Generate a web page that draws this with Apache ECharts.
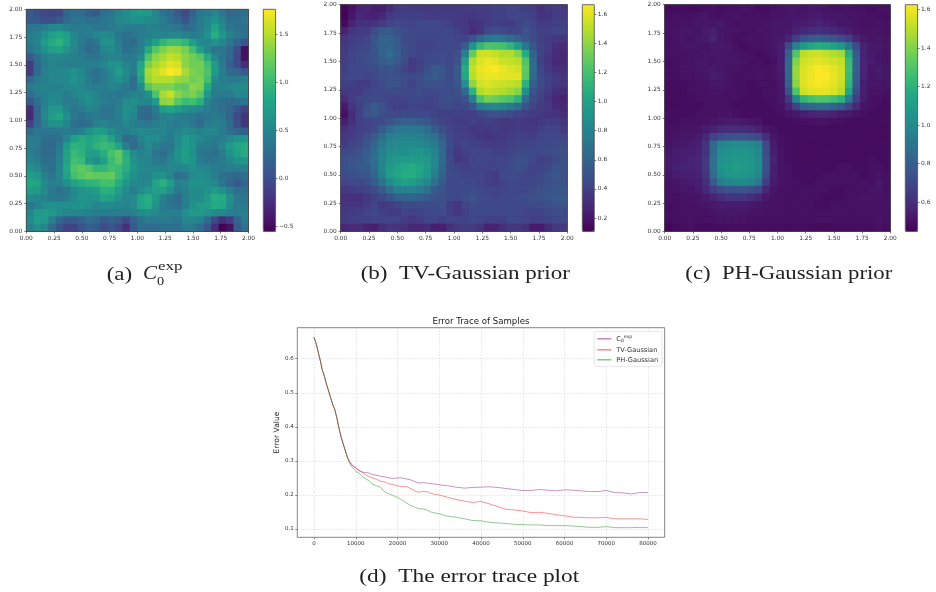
<!DOCTYPE html>
<html><head><meta charset="utf-8">
<style>html,body{margin:0;padding:0;background:#fff}#c{width:936px;height:592px;filter:blur(0.55px)}</style>
<script src="https://cdn.jsdelivr.net/npm/echarts@6/dist/echarts.min.js"></script>
</head><body><div id="c"></div>
<script>
// Heat values are in hundredths, rows from the top edge (y = 2) to the bottom (y = 0).
const heatA = [
[10,0,-5,-8,-5,20,30,25,15,10,30,35,45,55,65,70,68,50,35,25,10,-5,15,35,40,50,35,20,25,30],
[10,5,0,0,10,25,35,35,30,30,35,40,50,55,60,60,55,50,40,30,20,5,25,40,50,60,45,30,30,35],
[35,35,40,50,55,45,40,40,40,35,35,40,45,40,40,40,45,45,40,40,35,25,30,40,55,78,55,35,30,30],
[40,45,60,72,82,72,50,40,40,50,55,50,35,30,35,40,45,50,48,50,50,45,40,45,60,88,65,45,35,30],
[40,48,70,85,92,78,50,38,30,35,60,60,40,28,25,40,55,75,95,105,105,95,72,55,50,60,50,35,20,5],
[35,45,60,72,78,62,48,35,25,30,50,55,45,30,32,45,85,115,130,142,140,128,105,72,50,35,35,25,0,-45],
[10,30,45,50,52,48,45,40,35,35,42,48,48,38,40,55,110,135,145,155,150,135,125,115,85,50,35,20,-5,-45],
[-15,25,40,48,45,42,42,45,42,42,50,60,62,48,42,80,130,145,155,165,160,135,125,125,105,70,38,15,-5,-25],
[-15,25,42,50,50,52,60,50,38,30,38,55,72,55,40,85,145,155,165,175,170,145,130,125,110,70,40,25,20,10],
[20,38,45,50,50,55,62,55,40,30,38,50,60,50,30,75,140,150,150,150,140,135,125,130,105,55,40,38,40,45],
[40,45,48,45,45,50,55,50,42,40,42,48,45,38,28,55,115,130,130,130,120,118,135,130,85,45,45,50,55,55],
[30,40,45,50,48,42,48,55,55,48,40,38,35,40,48,45,60,110,145,155,135,125,130,115,65,40,40,40,50,50],
[10,30,45,55,50,40,40,48,58,50,42,38,40,55,58,50,48,70,135,140,115,100,105,90,50,35,30,25,30,35],
[-25,20,48,65,65,48,35,40,48,45,35,32,45,60,55,30,25,40,70,80,70,60,55,50,40,35,30,20,5,-10],
[-30,20,50,72,80,58,35,30,35,38,35,32,42,58,50,25,20,32,45,48,42,38,35,30,35,38,35,20,-5,-20],
[-10,25,45,60,62,48,30,25,30,45,50,42,42,50,45,38,35,42,48,42,40,45,35,25,40,45,40,25,0,-20],
[25,35,35,35,38,40,38,45,60,72,70,55,45,42,48,55,50,48,50,42,48,55,50,45,50,50,40,30,20,15],
[40,40,30,25,30,50,75,85,80,85,92,75,50,25,28,48,58,55,45,38,55,70,62,52,45,40,42,50,60,65],
[42,38,25,22,38,70,92,90,80,92,100,95,78,42,25,40,55,45,35,35,55,70,62,40,40,35,50,68,78,85],
[45,35,25,25,42,78,98,92,72,72,88,108,118,88,55,45,50,35,28,40,60,72,60,35,32,30,40,60,75,85],
[50,40,30,28,45,78,105,100,68,58,75,100,115,92,62,52,48,38,35,50,58,68,62,42,35,35,40,50,60,65],
[60,52,35,30,48,82,112,118,112,95,95,105,100,88,65,52,50,50,48,50,48,50,58,50,48,42,38,42,42,45],
[72,65,45,35,50,75,105,115,122,118,118,120,100,78,60,50,48,60,62,48,30,35,55,58,55,42,30,25,22,30],
[82,78,55,42,45,58,75,85,92,95,105,105,85,65,52,50,52,78,90,72,45,48,60,60,58,50,35,20,10,20],
[72,68,52,38,30,38,52,62,68,72,90,88,72,55,42,55,65,75,75,58,38,45,55,55,60,70,60,42,28,30],
[55,52,45,38,35,42,55,62,62,62,78,75,62,50,55,80,88,68,45,32,25,42,55,55,70,88,85,58,38,35],
[35,45,55,60,58,58,60,62,58,50,55,55,50,48,55,78,85,62,40,32,28,42,60,68,72,85,82,55,40,38],
[50,68,72,68,58,50,50,48,45,40,42,42,42,40,45,55,58,52,45,42,45,58,68,68,60,55,52,45,42,45],
[55,72,70,45,20,10,10,15,25,22,10,15,10,-5,15,30,38,38,40,38,35,48,50,45,25,-5,-25,-15,18,40],
[45,58,50,25,5,-8,-8,5,15,10,-2,5,-5,-22,10,28,25,25,30,30,28,40,38,25,5,-25,-55,-45,10,30]
];
const heatB = [
[13,18,25,27,24,24,30,36,38,37,36,36,37,36,37,37,37,38,38,38,40,40,42,42,40,38,32,36,38,38],
[12,20,28,26,25,28,36,40,40,40,40,38,38,38,38,37,36,36,38,38,40,40,42,44,42,40,33,34,38,38],
[15,26,32,32,34,38,42,44,42,42,44,44,44,42,40,37,36,32,34,38,40,38,38,42,46,42,38,38,40,40],
[26,34,38,38,46,54,56,50,46,44,44,44,44,44,44,40,36,30,34,44,48,46,42,42,50,44,40,40,42,42],
[34,38,40,42,52,60,60,54,46,44,42,42,42,44,44,42,42,50,64,72,74,72,66,60,52,46,40,38,36,34],
[36,40,42,44,52,60,62,56,48,44,42,42,42,44,44,44,56,90,114,122,122,120,112,96,72,52,42,38,32,30],
[38,42,44,46,50,58,66,58,48,44,42,44,44,46,44,48,78,130,154,156,152,148,148,138,106,60,42,36,30,28],
[38,42,44,48,50,56,60,54,46,36,40,44,46,46,44,50,96,148,158,162,160,154,152,150,124,64,40,34,28,28],
[40,44,44,44,46,50,52,48,42,38,42,48,54,52,46,54,106,152,162,164,166,162,158,156,128,66,42,36,32,30],
[42,44,44,42,44,48,50,50,46,44,46,52,56,52,46,54,104,150,160,162,162,160,160,160,126,64,44,40,36,34],
[40,40,38,38,42,46,50,50,46,42,46,50,50,48,46,52,88,140,156,158,156,154,152,150,110,58,44,40,36,34],
[36,38,38,42,44,44,46,46,44,44,46,44,44,46,46,48,64,110,148,152,150,148,144,138,88,50,42,38,32,30],
[30,38,42,44,46,44,42,42,42,44,44,42,42,46,48,46,50,76,122,134,130,126,122,110,66,46,40,34,28,26],
[22,34,40,48,54,50,42,40,40,42,42,40,42,44,44,42,44,52,74,80,82,80,74,66,50,42,38,36,30,28],
[18,30,40,50,54,48,44,44,46,46,44,44,42,40,40,40,40,40,44,48,50,48,46,42,40,38,36,34,34,30],
[24,32,40,42,44,46,50,56,58,58,56,52,46,42,40,38,38,40,38,40,38,36,36,38,36,34,36,38,38,34],
[32,36,40,42,46,56,66,72,74,74,72,66,56,48,42,40,38,36,36,36,38,36,36,38,36,36,40,42,42,38],
[36,38,42,48,54,66,76,80,80,80,78,74,68,56,44,40,40,38,36,34,36,36,38,40,40,40,42,44,44,42],
[38,42,46,52,62,74,82,84,84,84,84,80,74,62,46,40,42,40,40,38,38,38,40,42,42,42,44,44,46,46],
[44,46,50,56,66,78,86,88,88,90,92,88,80,64,44,36,40,42,42,42,40,40,42,44,46,44,44,46,48,48],
[48,50,52,58,66,80,90,94,96,96,96,92,82,64,46,36,38,42,44,42,42,42,44,48,48,44,40,42,46,48],
[48,52,54,56,66,82,94,100,104,106,102,94,82,62,46,42,40,42,42,42,42,44,46,48,46,42,42,44,50,50],
[46,48,50,52,62,80,96,102,106,106,100,92,78,60,46,44,42,42,42,40,38,44,46,46,42,42,44,48,52,50],
[42,44,44,48,56,70,84,94,98,96,90,82,68,54,46,44,44,44,42,40,38,42,44,44,42,44,46,48,50,50],
[36,38,40,42,46,56,68,78,80,80,76,68,56,50,46,44,46,46,44,42,42,42,44,44,44,46,48,50,52,52],
[32,32,32,36,40,44,50,58,60,60,58,54,50,48,46,44,48,50,46,44,42,44,44,46,46,48,50,52,54,54],
[34,34,34,38,42,36,38,42,46,46,46,46,46,48,38,34,42,46,44,44,44,44,46,44,44,46,46,48,50,50],
[36,38,40,42,44,40,38,38,42,40,42,44,44,46,40,36,40,44,44,44,44,44,44,44,42,42,42,44,46,46],
[38,40,40,40,42,42,42,42,38,36,38,42,42,40,42,42,42,44,42,40,40,40,44,44,42,40,40,42,44,44],
[28,30,30,26,24,30,34,34,32,28,28,30,24,24,32,36,38,38,34,26,26,32,36,36,32,22,22,30,36,36]
];
const heatC = [
[47,49,49,48,49,50,50,49,50,50,51,50,49,49,50,51,52,52,51,52,52,51,50,50,51,50,50,49,50,50],
[49,50,50,50,51,52,50,50,51,51,50,50,50,50,51,51,52,52,52,53,54,52,52,52,51,51,50,50,50,49],
[50,50,51,50,52,52,52,53,51,50,50,50,50,51,52,52,52,54,54,55,56,55,54,52,52,51,50,50,51,50],
[50,51,52,52,51,54,55,52,51,51,50,50,51,51,52,52,53,56,58,60,61,60,58,56,54,52,51,51,51,50],
[50,51,52,51,52,53,56,52,51,50,50,51,50,51,52,53,56,66,74,78,80,78,75,70,66,57,53,51,52,51],
[50,50,51,52,52,51,53,53,52,50,49,50,50,51,52,54,72,96,108,114,118,116,112,106,92,72,56,53,53,51],
[50,50,50,51,51,52,52,52,52,51,50,50,49,50,51,54,80,130,150,153,154,152,149,146,118,78,56,53,52,51],
[49,50,50,51,52,52,51,52,52,52,51,50,50,49,50,54,84,140,154,156,158,156,154,152,124,80,57,54,52,51],
[49,50,51,51,52,52,53,52,51,51,50,50,50,50,51,54,85,144,156,159,162,161,158,154,126,80,57,52,54,52],
[49,49,50,50,51,52,54,53,51,50,50,50,51,50,51,53,84,144,157,160,163,162,159,154,124,78,56,52,53,52],
[48,49,49,50,50,51,52,52,51,50,50,49,50,50,50,53,82,142,157,160,162,160,158,153,122,78,55,52,52,51],
[48,48,49,50,50,50,51,51,50,50,50,49,49,50,50,52,74,130,154,157,158,158,156,150,114,72,55,51,51,50],
[48,48,49,49,50,50,50,50,50,50,49,49,49,50,50,52,64,100,122,128,130,129,126,120,94,66,54,50,50,49],
[48,48,49,49,49,50,50,50,50,49,49,49,49,49,50,51,56,68,80,84,86,85,82,78,68,58,51,50,49,48],
[49,49,49,49,50,50,50,51,51,50,49,49,49,49,49,50,51,53,55,56,58,58,56,54,53,51,50,49,49,48],
[49,49,50,50,50,51,52,53,54,54,53,52,51,49,49,49,49,50,50,50,51,51,50,50,49,49,49,49,49,48],
[50,50,51,51,52,54,56,59,60,60,60,59,56,52,50,49,49,49,49,49,49,49,49,49,49,49,49,49,48,48],
[50,51,52,52,54,58,68,72,74,75,75,73,70,60,52,50,49,49,48,49,49,48,48,49,49,49,49,48,48,48],
[51,52,53,54,55,62,84,98,100,102,102,100,96,70,54,50,49,48,48,48,48,48,49,49,49,48,48,48,49,49],
[52,54,55,55,56,62,86,102,104,105,106,104,100,72,55,51,49,48,48,48,48,49,49,49,48,48,48,49,49,49],
[53,54,55,56,57,64,88,103,106,108,108,106,102,74,56,51,49,49,48,48,49,49,49,49,49,48,49,50,49,49],
[53,55,56,56,57,64,88,104,107,110,108,106,102,74,55,51,50,49,48,49,49,49,49,50,50,49,49,50,50,49],
[52,54,55,55,56,63,86,102,106,108,106,104,100,72,55,51,50,49,49,49,49,50,50,50,50,50,49,50,51,50],
[51,52,53,54,55,60,78,94,98,100,100,98,92,66,54,51,50,50,49,49,50,50,50,50,50,50,50,50,52,50],
[50,51,52,52,54,58,66,72,74,75,75,73,70,58,52,50,50,50,50,50,50,50,49,49,50,50,50,51,52,50],
[50,50,51,51,52,54,56,60,62,63,62,60,57,53,51,50,50,50,50,50,50,49,49,49,50,50,51,51,51,50],
[49,50,50,50,51,52,53,54,54,54,54,53,52,51,50,50,50,50,50,50,49,49,50,50,50,50,50,50,50,50],
[49,50,50,50,50,50,51,52,52,52,52,51,51,50,50,50,50,50,50,50,50,50,50,50,50,50,50,50,50,50],
[49,50,50,51,50,50,50,51,51,51,51,50,50,50,50,50,50,50,50,50,50,50,50,50,50,50,50,50,51,50],
[46,48,49,50,49,48,49,49,49,49,49,49,49,49,49,49,49,49,49,49,48,48,49,49,49,49,49,49,50,49]
];
const colorRangeA = [-0.554, 1.757];
const colorRangeB = [0.107, 1.666];
const colorRangeC = [0.448, 1.626];
const colorTicksA = [-0.5, 0, 0.5, 1, 1.5];
const colorTicksB = [0.2, 0.4, 0.6, 0.8, 1, 1.2, 1.4, 1.6];
const colorTicksC = [0.6, 0.8, 1, 1.2, 1.4, 1.6];
const spatialTicks = [0, 0.25, 0.5, 0.75, 1, 1.25, 1.5, 1.75, 2];

const iterations = [0,500,1000,1500,2000,2500,3000,3500,4000,4500,5000,5500,6000,6500,7000,7500,8000,8500,9000,
10000,11000,12000,13000,14000,15000,16000,17000,18000,19000,20000,21000,22000,23000,24000,25000,26000,27000,28000,29000,30000,
32000,34000,36000,38000,40000,42000,44000,46000,48000,50000,52000,54000,56000,58000,60000,62000,64000,66000,68000,70000,72000,74000,76000,78000,80000];
const errorStart = [.663,.645,.62,.595,.566,.548,.525,.505,.485,.465,.45,.425,.395,.37,.35,.33,.31];
const errorC0 = [.298,.29,.28,.27,.266,.265,.26,.258,.255,.253,.25,.248,.25,.25,.247,.245,.24,.235,.236,.235,.233,.232,.23,.227,.223,.22,.222,.223,.224,.222,.219,.216,.213,.213,.216,.214,.212,.215,.214,.212,.21,.21,.213,.207,.206,.203,.207,.207];
const errorTV = [.298,.288,.278,.27,.262,.255,.25,.246,.24,.238,.233,.23,.227,.225,.225,.22,.213,.208,.21,.21,.205,.201,.2,.193,.187,.182,.178,.181,.174,.166,.158,.156,.153,.148,.149,.146,.142,.139,.135,.134,.133,.133,.134,.13,.13,.13,.13,.128];
const errorPH = [.293,.283,.27,.262,.25,.243,.232,.227,.222,.208,.203,.198,.192,.186,.178,.17,.165,.16,.159,.156,.15,.147,.145,.137,.135,.13,.125,.124,.12,.118,.116,.114,.113,.112,.112,.11,.11,.11,.109,.107,.105,.105,.107,.104,.104,.104,.105,.104];
const traceXTicks = [0,10000,20000,30000,40000,50000,60000,70000,80000];
const traceYTicks = [0.1,0.2,0.3,0.4,0.5,0.6];
const traceNames = ['C0exp','TV-Gaussian','PH-Gaussian'];

const viridis = ['#440154','#482475','#414487','#355f8d','#2a788e','#21918c','#22a884','#44bf70','#7ad151','#bddf26','#fde725'];
const panels = [
 {heat:heatA, range:colorRangeA, ticks:colorTicksA, box:[26.3,9.3,222.2,222.2], bar:[263.3,12.3]},
 {heat:heatB, range:colorRangeB, ticks:colorTicksB, box:[340.7,4.7,226.6,226.8], bar:[582.3,12]},
 {heat:heatC, range:colorRangeC, ticks:colorTicksC, box:[664.7,4.7,225.6,226.8], bar:[905.3,12.3]}
];
const ink = '#333', tickFont = 5.9, fam = 'DejaVu Sans';
const noLines = {splitLine:{show:false}, splitArea:{show:false}, minorSplitLine:{show:false}};
const grid=[], xAxis=[], yAxis=[], series=[], visualMap=[];
const cells = heatA.map((_, i) => String(i));
panels.forEach((p, k) => {
  const [l,t,w,h] = p.box;
  const gi = grid.length;
  grid.push({left:l, top:t, width:w, height:h, show:true, z:3, backgroundColor:'transparent', borderColor:'#444', borderWidth:0.8});
  const xc = xAxis.length, yc = yAxis.length;
  xAxis.push(Object.assign({type:'category', gridIndex:gi, data:cells, show:false, axisLine:{show:false}, axisTick:{show:false}, axisLabel:{show:false}}, noLines));
  yAxis.push(Object.assign({type:'category', gridIndex:gi, data:cells, show:false, axisLine:{show:false}, axisTick:{show:false}, axisLabel:{show:false}}, noLines));
  const common = Object.assign({type:'value', gridIndex:gi, min:0, max:2,
    axisLine:{show:false, onZero:false},
    axisTick:{show:true, length:2, lineStyle:{color:'#444', width:0.7}, customValues:spatialTicks},
    axisLabel:{fontSize:tickFont, fontFamily:fam, color:ink, margin:4, customValues:spatialTicks, formatter:v=>v.toFixed(2), showMinLabel:true, showMaxLabel:true, hideOverlap:false}}, noLines);
  xAxis.push(Object.assign({}, common, {position:'bottom'}));
  yAxis.push(Object.assign({}, common, {position:'left'}));
  const data=[];
  p.heat.forEach((row,j)=>row.forEach((v,i)=>data.push([i, p.heat.length-1-j, v/100])));
  // The same cells are painted twice so that anti-aliased cell edges do not let the page show through.
  const heat = {type:'heatmap', xAxisIndex:xc, yAxisIndex:yc, data, silent:true, itemStyle:{borderWidth:0}, progressive:0, emphasis:{disabled:true}};
  series.push(heat, Object.assign({}, heat));
  visualMap.push({type:'continuous', seriesIndex:[series.length-2, series.length-1], min:p.range[0], max:p.range[1], left:p.bar[0], top:t, itemWidth:p.bar[1], itemHeight:h, padding:0, calculable:false, hoverLink:false, showLabel:false, text:null, inRange:{color:viridis}, silent:true});
  // colour-bar frame and tick axis share the legend's rectangle
  const gb = grid.length;
  grid.push({left:p.bar[0], top:t, width:p.bar[1], height:h, show:true, z:6, backgroundColor:'transparent', borderColor:'#444', borderWidth:0.8});
  xAxis.push(Object.assign({type:'value', gridIndex:gb, show:false, min:0, max:1, axisLine:{show:false}, axisTick:{show:false}, axisLabel:{show:false}}, noLines));
  yAxis.push(Object.assign({type:'value', gridIndex:gb, position:'right', min:p.range[0], max:p.range[1],
    axisLine:{show:false, onZero:false},
    axisTick:{show:true, length:2, lineStyle:{color:'#444', width:0.7}, customValues:p.ticks},
    axisLabel:{fontSize:tickFont, fontFamily:fam, color:ink, margin:3.5, customValues:p.ticks, formatter:v=>(v<0?'\u2212':'')+Math.abs(v).toFixed(1), showMinLabel:true, showMaxLabel:true}}, noLines));
});
// error trace panel
const gd = grid.length;
grid.push({left:297.3, top:327.7, width:367.4, height:209.6, show:true, z:1, backgroundColor:'transparent', borderColor:'#777', borderWidth:0.9});
const xd = xAxis.length, yd = yAxis.length;
const dash = {show:true, lineStyle:{color:'#d8d8d8', width:0.7, type:[1.5,1.5]}};
xAxis.push({type:'value', gridIndex:gd, min:-4000, max:84000, splitLine:dash,
  axisLine:{show:false,onZero:false}, axisTick:{length:2, lineStyle:{color:'#555', width:0.7}, customValues:traceXTicks},
  axisLabel:{fontSize:5.5, fontFamily:fam, color:ink, margin:3.5, customValues:traceXTicks, formatter:v=>String(v)}});
yAxis.push({type:'value', gridIndex:gd, min:0.0757, max:0.691, splitLine:dash, name:'Error Value', nameLocation:'middle', nameGap:15,
  nameTextStyle:{fontSize:7.6, fontFamily:fam, color:'#222'},
  axisLine:{show:false,onZero:false}, axisTick:{length:2, lineStyle:{color:'#555', width:0.7}, customValues:traceYTicks},
  axisLabel:{fontSize:5.5, fontFamily:fam, color:ink, margin:3.5, customValues:traceYTicks, formatter:v=>v.toFixed(1)}});
const traces = [[errorC0,'#800080'],[errorTV,'#ff0000'],[errorPH,'#008000']];
traces.forEach(([tail,col],i)=>{
  const vals = errorStart.concat(tail);
  series.push({type:'line', name:traceNames[i], xAxisIndex:xd, yAxisIndex:yd, showSymbol:false, symbol:'none',
    lineStyle:{color:col, width:0.85, opacity:0.5}, itemStyle:{color:col, opacity:0.5}, silent:true,
    data:iterations.map((x,n)=>[x, vals[n]])});
});

const captionFont = '19px "Liberation Serif"';
function cap(text,x,y,font,sx){return {type:'text', x, y, scaleX:sx||1.21, silent:true, style:{text, x:0, y:0, font:font||captionFont, fill:'#222', align:'left', verticalAlign:'middle'}};}
const graphic = [
 cap('(a)',106.7,275),
 cap('C',143,274,'italic 19px "Liberation Serif"',1.1),
 cap('exp',158,267,'13px "Liberation Serif"',1.3),
 cap('0',157,282,'13px "Liberation Serif"',1.1),
 cap('(b)  TV-Gaussian prior',360.7,274),
 cap('(c)  PH-Gaussian prior',685.3,274,captionFont,1.2),
 cap('(d)  The error trace plot',359.3,577,captionFont,1.23)
];

const chart = echarts.init(document.getElementById('c'), null, {renderer:'canvas', width:936, height:592});
chart.setOption({
  animation:false, backgroundColor:'#fff',
  title:{text:'Error Trace of Samples', left:481, top:317, textAlign:'center', padding:0,
    textStyle:{fontSize:8.6, fontWeight:'normal', fontFamily:fam, color:'#222'}},
  legend:{data:traceNames, orient:'vertical', left:594.3, top:331.3, padding:[3,4,3,3], itemWidth:14, itemHeight:8, itemGap:3,
    icon:'path://M0,45L100,45L100,55L0,55Z',
    backgroundColor:'rgba(255,255,255,0.85)', borderColor:'#ddd', borderWidth:0.7, borderRadius:2,
    selectedMode:false, textStyle:{fontSize:6.6, fontFamily:fam, color:'#333', rich:{c:{fontSize:6.6,fontFamily:fam,color:'#333'},s:{fontSize:4.6,fontFamily:fam,color:'#333',verticalAlign:'bottom',lineHeight:9},e:{fontSize:4.6,fontFamily:fam,color:'#333',verticalAlign:'top',lineHeight:9}}},
    formatter:n=>n==='C0exp'?'{c|C}{s|0}{e|exp}':n},
  grid, xAxis, yAxis, visualMap, series, graphic
});
</script></body></html>
